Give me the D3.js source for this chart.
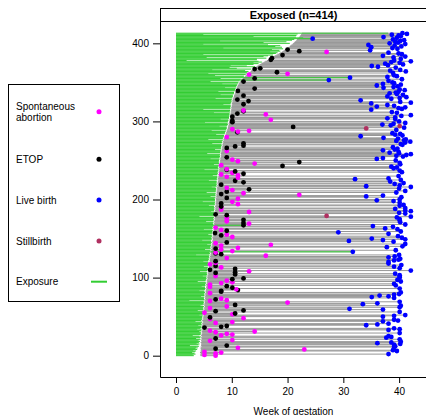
<!DOCTYPE html>
<html>
<head>
<meta charset="utf-8">
<script src="https://cdn.jsdelivr.net/npm/d3@7"></script>
<style>
    body { margin: 0; background: #fff; }
    #chart-area { width: 426px; height: 415px; overflow: hidden; }
    svg text { font-family: "Liberation Sans", Arial, Helvetica, sans-serif; fill: #000; }
</style>
</head>
<body>
<div id="chart-area"></div>
<script>

// Axis ticks and titles
var xTicks = [0, 10, 20, 30, 40];
var yTicks = [0, 100, 200, 300, 400];
var panelTitle = "Exposed (n=414)";
var xTitle = "Week of gestation";

// Outcome categories, in legend order
var outcomeKeys = ["S", "E", "L", "B"];
var outcomeNames = [["Spontaneous", "abortion"], ["ETOP"], ["Live birth"], ["Stillbirth"]];
var exposureName = "Exposure";

// One value per pregnancy, row 0 (bottom) to row 413 (top)
// week the pregnancy enters follow-up (start of grey line)
var entryWeek = [
    4.4,4.3,4.5,4.4,4.3,4.4,4.5,4.4,4.5,4.4,
    4.5,4.4,4.6,4.5,4.5,4.6,4.5,4.4,4.6,4.5,
    4.5,4.6,4.6,4.5,4.7,4.6,4.5,4.6,4.7,4.6,
    4.7,4.6,4.7,4.8,4.7,4.6,4.8,4.7,4.8,4.7,
    4.8,4.7,4.8,4.9,4.8,4.7,4.9,4.8,4.9,4.9,
    4.9,5.0,4.9,5.0,5.1,4.9,5.0,5.1,5.0,5.1,
    5.1,5.0,5.1,5.2,5.1,5.0,5.2,5.1,5.2,5.1,
    5.2,5.1,5.3,5.2,5.2,5.3,5.2,5.3,5.3,5.2,
    5.3,5.4,5.3,5.4,5.3,5.4,5.5,5.4,5.4,5.5,
    5.5,5.4,5.5,5.6,5.5,5.6,5.5,5.6,5.6,5.7,
    5.6,5.7,5.6,5.7,5.8,5.7,5.8,5.7,5.8,5.8,
    5.8,5.9,5.8,5.9,5.9,6.0,5.9,6.0,5.9,6.0,
    6.0,6.1,6.0,6.1,6.0,6.1,6.2,6.1,6.2,6.2,
    6.2,6.3,6.2,6.3,6.3,6.4,6.3,6.4,6.4,6.3,
    6.4,6.5,6.4,6.5,6.5,6.6,6.5,6.5,6.6,6.6,
    6.6,6.5,6.6,6.7,6.6,6.7,6.7,6.6,6.7,6.7,
    6.8,6.7,6.8,6.8,6.7,6.8,6.9,6.8,6.9,6.8,
    6.9,6.9,6.8,6.9,7.0,6.9,6.9,7.0,6.9,7.0,
    7.0,6.9,7.0,7.0,7.1,7.0,7.0,7.1,7.0,7.1,
    7.1,7.0,7.1,7.1,7.2,7.1,7.2,7.1,7.2,7.2,
    7.2,7.1,7.2,7.3,7.2,7.3,7.2,7.3,7.3,7.3,
    7.3,7.4,7.3,7.4,7.4,7.3,7.4,7.5,7.4,7.5,
    7.5,7.4,7.5,7.5,7.6,7.5,7.6,7.5,7.6,7.6,
    7.6,7.7,7.6,7.7,7.7,7.6,7.7,7.8,7.7,7.8,
    7.8,7.7,7.8,7.8,7.9,7.8,7.9,7.9,7.8,7.9,
    7.9,8.0,7.9,8.0,8.0,8.1,8.0,8.1,8.1,8.0,
    8.1,8.2,8.1,8.2,8.2,8.3,8.2,8.3,8.3,8.4,
    8.3,8.4,8.4,8.5,8.4,8.5,8.6,8.5,8.6,8.7,
    8.7,8.8,8.8,8.9,8.9,9.0,9.0,9.1,9.1,9.2,
    9.2,9.3,9.3,9.3,9.4,9.4,9.5,9.4,9.5,9.5,
    9.5,9.6,9.6,9.6,9.7,9.7,9.7,9.8,9.7,9.8,
    9.8,9.8,9.9,9.8,9.9,9.9,9.9,10.0,9.9,10.0,
    10.0,10.0,10.1,10.0,10.1,10.1,10.2,10.1,10.2,10.2,
    10.3,10.3,10.4,10.4,10.5,10.5,10.6,10.6,10.7,10.7,
    10.8,10.8,10.9,10.9,11.0,11.0,11.1,11.2,11.2,11.3,
    11.4,11.5,11.6,11.7,11.8,12.0,12.1,12.3,12.4,12.6,
    12.7,12.9,13.0,13.2,13.4,13.5,13.7,13.8,14.0,14.2,
    14.4,14.6,14.8,15.0,15.3,15.5,15.8,16.0,16.3,16.6,
    16.8,17.0,17.2,17.5,17.7,18.0,18.2,18.5,18.7,19.0,
    19.2,19.4,19.6,19.8,20.0,20.2,20.4,20.5,20.7,20.9,
    21.0,21.2,21.3,21.5,21.6,21.7,21.8,22.0,22.1,22.2,
    22.3,22.4,22.5,22.6
];

// last week of exposure (green line from week 0)
var exposureWeek = [
    3.2,3.0,3.5,3.3,2.9,3.4,3.6,3.1,3.8,3.5,
    3.9,3.6,4.1,2.5,4.0,4.2,3.7,4.1,4.3,3.9,
    4.2,4.4,3.6,4.3,4.5,4.2,3.0,4.4,4.5,4.3,
    4.5,4.2,4.5,4.6,3.8,4.4,4.6,4.5,4.6,4.0,
    4.6,4.5,4.6,4.7,3.5,4.5,4.7,4.6,4.7,4.7,
    4.7,4.8,4.2,4.8,4.9,4.7,4.8,4.9,3.9,4.9,
    4.9,4.8,4.9,5.0,4.4,4.8,5.0,4.9,5.0,4.9,
    5.0,2.4,5.1,5.0,5.0,5.1,4.5,5.1,5.1,5.0,
    5.1,5.2,5.1,4.2,5.1,5.2,5.3,5.2,5.2,4.6,
    5.3,5.2,5.3,5.4,5.3,3.9,5.3,5.4,5.4,5.5,
    5.4,5.5,4.8,5.5,5.6,5.5,5.6,5.5,4.3,5.6,
    5.6,5.7,5.6,5.7,5.0,5.8,5.7,5.8,5.7,5.8,
    5.8,4.9,5.8,5.9,5.8,5.9,6.0,5.9,6.0,3.6,
    6.0,6.1,6.0,31.7,6.1,6.2,5.2,6.2,6.2,6.1,
    6.2,6.3,5.6,6.3,6.3,6.4,6.3,6.3,4.7,6.4,
    6.4,6.3,6.4,6.5,6.4,5.8,6.5,6.4,6.5,6.5,
    6.6,6.5,5.0,6.6,6.5,6.6,6.7,12.1,6.7,6.6,
    6.7,6.7,5.4,6.7,6.8,6.7,6.7,6.8,4.2,6.8,
    6.8,6.7,6.8,6.8,6.9,6.3,6.8,6.9,6.8,6.9,
    6.9,6.8,5.9,6.9,7.0,6.9,7.0,4.8,7.0,7.0,
    7.0,6.9,7.0,7.1,6.2,7.1,7.0,7.1,7.1,5.5,
    7.1,7.2,7.1,7.2,7.2,7.1,6.4,7.3,7.2,7.3,
    7.3,7.2,7.3,7.3,5.9,7.3,7.4,7.3,7.4,7.4,
    7.4,6.6,7.4,7.5,7.5,7.4,7.5,7.6,5.1,7.6,
    7.6,7.5,7.6,7.6,7.7,6.8,7.7,7.7,7.6,7.7,
    7.7,7.8,6.2,7.8,7.8,7.9,7.8,7.9,7.9,5.6,
    7.9,8.0,7.9,8.0,7.0,8.1,8.0,8.1,8.1,8.2,
    8.1,8.2,6.5,8.3,8.2,8.3,8.4,5.8,8.4,8.5,
    8.5,8.6,8.6,7.2,8.7,8.8,8.8,8.9,6.4,9.0,
    9.0,9.1,9.1,9.1,7.8,9.2,9.3,9.2,9.3,5.2,
    9.3,9.4,9.4,8.0,9.5,9.5,9.5,9.6,9.5,9.6,
    9.6,6.8,9.7,9.6,9.7,4.9,9.7,9.8,9.7,9.8,
    9.8,9.8,8.5,9.8,9.9,9.9,10.0,9.9,10.0,7.1,
    10.1,10.1,10.2,10.2,8.0,10.3,10.4,10.4,7.6,10.5,
    10.6,10.6,10.7,8.8,10.8,10.8,10.9,11.0,8.3,11.1,
    11.2,6.2,11.4,27.4,11.6,8.0,31.2,12.1,12.2,7.0,
    12.5,5.8,12.8,12.7,13.0,12.4,6.5,13.5,10.9,9.6,
    14.2,12.7,9.8,13.9,14.8,13.9,15.4,14.8,1.9,14.5,
    14.5,16.2,5.5,15.7,16.5,17.4,4.9,17.9,18.2,16.9,
    18.7,18.5,17.2,19.2,8.5,19.0,17.8,18.7,16.5,4.9,
    20.4,15.7,19.8,7.9,20.8,21.2,24.5,22.8,21.5,13.9,
    21.6,4.9,21.8,38.0
];

// week of the pregnancy outcome (end of grey line, dot)
var outcomeWeek = [
    7.1,5.1,38.1,7.1,8.1,5.1,39.6,38.9,23.0,7.1,
    11.1,39.1,39.3,9.1,39.1,40.2,36.1,38.6,40.3,6.1,
    10.1,40.1,7.1,37.7,38.6,38.1,8.1,10.1,9.1,40.1,
    7.1,14.1,6.1,38.1,40.1,39.1,5.1,8.1,9.1,34.1,
    36.1,38.1,7.1,10.1,37.1,39.8,39.1,6.1,12.1,6.1,
    37.1,39.1,41.1,10.1,10.6,5.1,40.1,7.1,12.1,37.1,
    31.1,6.1,40.1,9.1,40.3,10.6,33.5,36.1,20.0,40.1,
    6.1,9.1,7.1,8.1,39.1,35.1,38.1,36.5,39.1,40.0,
    6.1,40.3,8.1,8.1,11.1,10.8,40.1,10.1,6.1,9.1,
    39.4,6.1,39.1,8.1,10.1,40.3,9.1,39.7,10.1,12.1,
    40.1,40.1,7.1,40.1,10.6,39.3,7.1,10.6,13.1,42.1,
    6.1,10.6,40.1,8.1,39.1,7.1,40.4,6.1,38.1,7.1,
    38.1,7.1,39.1,39.9,40.2,9.1,38.1,39.2,16.1,40.0,
    8.1,7.1,7.1,31.7,10.1,39.4,8.1,7.1,11.1,37.8,
    40.6,8.1,17.0,41.1,7.1,9.1,39.0,31.0,37.1,41.1,
    35.1,40.5,10.1,39.8,8.1,9.1,38.1,7.0,29.1,40.3,
    9.1,8.1,39.7,37.5,7.1,38.9,35.3,12.1,41.1,13.1,
    12.1,40.2,9.1,40.1,12.1,40.1,9.1,39.6,42.1,27.0,
    9.1,7.1,41.1,40.0,13.1,42.1,41.1,8.1,39.3,41.1,
    8.1,8.1,40.1,40.8,11.1,8.1,40.1,10.1,39.0,36.0,
    40.1,11.1,9.1,40.4,34.1,37.1,22.1,8.1,12.1,39.5,
    9.1,41.1,10.1,13.1,40.0,9.1,42.1,34.1,40.1,8.1,
    39.2,40.8,12.1,38.4,10.6,40.3,32.1,38.1,11.1,9.1,
    39.9,11.1,8.1,12.1,10.1,40.5,10.6,40.1,9.1,9.1,
    39.0,39.6,38.6,19.1,8.1,40.2,14.1,40.1,22.1,11.1,
    39.4,10.1,36.0,37.1,9.1,40.7,39.5,41.3,42.1,40.0,
    38.3,39.9,9.1,37.1,39.2,39.7,9.1,38.9,10.6,12.1,
    40.6,40.3,12.1,41.1,42.0,39.5,40.9,41.2,39.8,37.2,
    9.1,33.1,40.6,39.3,40.2,38.8,11.0,11.1,13.1,39.5,
    10.1,34.1,40.9,21.0,40.1,38.5,37.0,39.0,41.1,10.1,
    40.0,10.1,17.0,39.3,37.9,39.3,10.1,40.4,42.1,16.1,
    11.0,39.6,38.7,12.1,12.1,35.0,40.5,39.9,41.1,36.0,
    39.1,37.9,12.1,35.0,42.1,40.2,13.0,33.1,11.0,38.6,
    40.1,41.3,37.9,12.1,40.7,39.6,38.3,39.4,39.9,11.1,
    41.0,40.1,14.1,37.2,39.0,39.7,36.0,40.3,37.1,39.1,
    38.8,12.1,38.1,27.4,40.5,14.1,31.2,37.9,39.6,39.1,
    13.1,20.0,38.9,18.1,41.2,38.4,40.2,14.1,15.1,39.4,
    36.2,35.1,38.0,40.7,37.5,40.1,38.6,42.1,39.1,17.0,
    40.3,17.2,39.0,41.1,37.1,19.1,40.5,39.9,38.1,27.0,
    22.1,34.8,20.0,39.7,38.8,35.0,40.4,39.2,34.5,41.1,
    38.3,39.8,39.3,40.2,40.9,38.9,24.5,39.6,37.2,40.3,
    39.9,38.7,41.4,40.6
];

// outcome type: S = spontaneous abortion, E = ETOP, L = live birth, B = stillbirth
var outcomeCode = [
    "SSLSSSLLSE", "SLLELLLLLS", "SLELLLSSSL", "SSSLLLEEEL", "LLSSLLLSSE",
    "LLLSESLEEL", "LSLSLELLSL", "SSESLLLLLL", "SLEEESLESE", "LSLSSLSLEE",
    "LLSLELEESL", "EELSLELSLS", "LELLLSLLSL", "EESLSLSESL", "LSSLSELLLL",
    "LLSLESLELL", "ESLLSLLELS", "ELSLELSLLB", "EELLSLLSLL", "SELLSELSLL",
    "LSELLLSESL", "ELSELSLLLE", "LLELELLLSS", "LSSESLELES", "LLLESLSLES",
    "LSLLELLLLL", "LLSLLLELEE", "LLELLLLLLL", "SLLLLLESSL", "SBLEBLLLLE",
    "LESLLLELLS", "ELLESLLLLL", "LLELLLELEL", "LLLELLLLLE", "LLELLLLLLL",
    "LELLLELLLL", "SSLELLLEEL", "LLLLLLLLLE", "LELLLELLLS", "ELELLLLLLL",
    "LLLLLLLLLL", "LLLL"
].join("").split("");


/*
 * ExposureVis - Object constructor function
 * @param _parentElement 	-- the HTML element in which to draw the visualization
 * @param _data				-- one object per pregnancy
 */

ExposureVis = function(_parentElement, _data){
    this.parentElement = _parentElement;
    this.data = _data;

    this.initVis();
};


/*
 * Initialize visualization (static content, e.g. SVG area or axes)
 */

ExposureVis.prototype.initVis = function(){
    var vis = this;

    vis.margin = { top: 21, right: -1, bottom: 38, left: 160 };

    vis.width = 426 - vis.margin.left - vis.margin.right,
        vis.height = 415 - vis.margin.top - vis.margin.bottom;

    vis.root = d3.select("#" + vis.parentElement).append("svg")
        .attr("width", 426)
        .attr("height", 415);

    vis.svg = vis.root.append("g")
        .attr("transform", "translate(" + vis.margin.left + "," + vis.margin.top + ")");

    vis.colors = { S: "#ff00ff", E: "#000000", L: "#0000ff", B: "#b03060" };
    vis.greyColor = "#969696";
    vis.greenColor = "#32cd32";

    // Scales and axes
    vis.x = d3.scaleLinear()
        .domain([-2.87, 45.0])
        .range([0, vis.width]);

    vis.y = d3.scaleLinear()
        .domain([-27.3, 428.6])
        .range([vis.height, 0]);

    vis.xAxis = d3.axisBottom(vis.x)
        .tickValues(xTicks)
        .tickSize(6)
        .tickPadding(5);

    vis.yAxis = d3.axisLeft(vis.y)
        .tickValues(yTicks)
        .tickSize(7)
        .tickPadding(4);

    // Layers: grey follow-up lines, green exposure, outcome dots
    vis.greyLayer = vis.svg.append("g").attr("class", "followup");
    vis.greenLayer = vis.svg.append("g").attr("class", "exposure");
    vis.dotLayer = vis.svg.append("g").attr("class", "outcomes");

    // Panel frame and strip
    vis.svg.append("rect")
        .attr("x", 0.5)
        .attr("y", -12.5)
        .attr("width", vis.width + 5)
        .attr("height", 13)
        .attr("fill", "#fff")
        .attr("stroke", "#000")
        .attr("stroke-width", 1);

    vis.svg.append("text")
        .attr("x", vis.width / 2)
        .attr("y", -2.5)
        .attr("text-anchor", "middle")
        .attr("font-size", 11)
        .attr("font-weight", "bold")
        .text(panelTitle);

    vis.svg.append("path")
        .attr("d", "M0.5,0 V" + (vis.height + 0.5) + " H" + (vis.width + 5))
        .attr("fill", "none")
        .attr("stroke", "#000")
        .attr("stroke-width", 1);

    // Axes
    vis.svg.append("g")
        .attr("class", "x-axis axis")
        .attr("transform", "translate(0," + vis.height + ")");

    vis.svg.append("g")
        .attr("class", "y-axis axis");

    // Axis title
    vis.svg.append("text")
        .attr("x", vis.width / 2)
        .attr("y", vis.height + 37.5)
        .attr("text-anchor", "middle")
        .attr("font-size", 10)
        .text(xTitle);

    vis.drawLegend();

    vis.wrangleData();
};


/*
 * Legend box on the left
 */

ExposureVis.prototype.drawLegend = function(){
    var vis = this;

    var box = vis.root.append("g").attr("class", "legend");

    box.append("rect")
        .attr("x", 8.5)
        .attr("y", 84.5)
        .attr("width", 111)
        .attr("height", 217)
        .attr("fill", "#fff")
        .attr("stroke", "#000")
        .attr("stroke-width", 1);

    // row centres: first entry has two text lines
    var rowY = [111.7];
    for (var i = 1; i <= outcomeKeys.length; i++) {
        rowY.push(159.3 + (i - 1) * 40.8);
    }

    outcomeKeys.forEach(function(key, i){
        var lines = outcomeNames[i];
        var top = rowY[i] - (lines.length - 1) * 5.8;

        lines.forEach(function(line, j){
            box.append("text")
                .attr("x", 16)
                .attr("y", top + j * 11.6 + 3.6)
                .attr("font-size", 10)
                .text(line);
        });

        box.append("circle")
            .attr("cx", 99)
            .attr("cy", rowY[i])
            .attr("r", 2.5)
            .attr("fill", vis.colors[key]);
    });

    var ey = rowY[outcomeKeys.length];
    box.append("text")
        .attr("x", 16)
        .attr("y", ey + 3.6)
        .attr("font-size", 10)
        .text(exposureName);

    box.append("line")
        .attr("x1", 91)
        .attr("x2", 107)
        .attr("y1", ey)
        .attr("y2", ey)
        .attr("stroke", vis.greenColor)
        .attr("stroke-width", 2);
};


/*
 * Data wrangling
 */

ExposureVis.prototype.wrangleData = function(){
    var vis = this;

    vis.displayData = vis.data.map(function(d, i){
        return {
            row: i,
            entry: d.entry,
            exposure: d.exposure,
            outcome: d.outcome,
            code: d.code
        };
    });

    vis.updateVis();
};


/*
 * The drawing function
 */

ExposureVis.prototype.updateVis = function(){
    var vis = this;

    vis.greyLayer.selectAll("line")
        .data(vis.displayData)
        .enter().append("line")
        .attr("x1", function(d) { return vis.x(d.entry); })
        .attr("x2", function(d) { return vis.x(d.outcome); })
        .attr("y1", function(d) { return vis.y(d.row); })
        .attr("y2", function(d) { return vis.y(d.row); })
        .attr("stroke", vis.greyColor)
        .attr("stroke-width", 1);

    vis.greenLayer.selectAll("line")
        .data(vis.displayData)
        .enter().append("line")
        .attr("x1", vis.x(0))
        .attr("x2", function(d) { return vis.x(d.exposure); })
        .attr("y1", function(d) { return vis.y(d.row); })
        .attr("y2", function(d) { return vis.y(d.row); })
        .attr("stroke", vis.greenColor)
        .attr("stroke-width", 1);

    vis.dotLayer.selectAll("circle")
        .data(vis.displayData)
        .enter().append("circle")
        .attr("cx", function(d) { return vis.x(d.outcome); })
        .attr("cy", function(d) { return vis.y(d.row); })
        .attr("r", 2.4)
        .attr("fill", function(d) { return vis.colors[d.code]; });

    // Call axis functions
    vis.svg.select(".x-axis").call(vis.xAxis)
        .call(function(g) { g.select(".domain").remove(); })
        .attr("font-family", null)
        .attr("font-size", 10);
    vis.svg.select(".y-axis").call(vis.yAxis)
        .call(function(g) { g.select(".domain").remove(); })
        .attr("font-family", null)
        .attr("font-size", 10);
};


var pregnancies = entryWeek.map(function(d, i){
    return { entry: d, exposure: exposureWeek[i], outcome: outcomeWeek[i], code: outcomeCode[i] };
});

var exposureVis = new ExposureVis("chart-area", pregnancies);

</script>
</body>
</html>
